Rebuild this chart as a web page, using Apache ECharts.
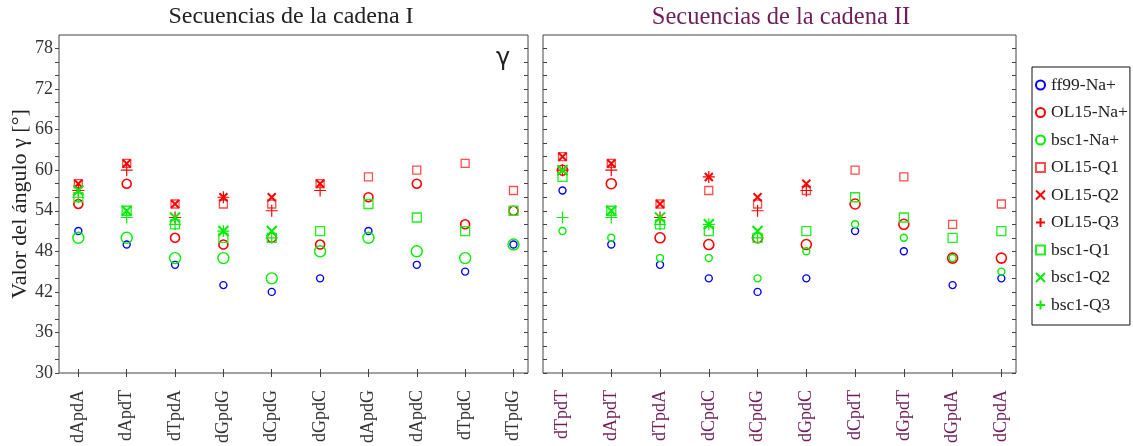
<!DOCTYPE html>
<html>
<head>
<meta charset="utf-8">
<script src="https://cdn.jsdelivr.net/npm/echarts@6/dist/echarts.min.js"></script>
<style>
  html, body { margin: 0; padding: 0; background: #fff; }
  #chart { width: 1133px; height: 446px; }
</style>
</head>
<body>
<div id="chart"></div>
<script>
// Sequence labels for each strand
const catsI  = ['dApdA', 'dApdT', 'dTpdA', 'dGpdG', 'dCpdG', 'dGpdC', 'dApdG', 'dApdC', 'dTpdC', 'dTpdG'];
const catsII = ['dTpdT', 'dApdT', 'dTpdA', 'dCpdC', 'dCpdG', 'dGpdC', 'dCpdT', 'dGpdT', 'dGpdA', 'dCpdA'];

// Y axis labels and tick marks (degrees)
const yLabelValues = [30, 36, 42, 48, 54, 60, 66, 72, 78];
const yTickValues  = [30, 32, 34, 36, 38, 40, 42, 44, 46, 48, 50, 52, 54, 56, 58, 60, 62, 64, 66, 68, 70, 72, 74, 76, 78];

// Gamma angle values, strand I
const ff99Na_I   = [51, 49, 46, 43, 42, 44, 51, 46, 45, 49];
const ol15Na_I   = [55, 58, 50, 49, 50, 49, 56, 58, 52, 54];
const bsc1Na_I   = [50, 50, 47, 47, 44, 48, 50, 48, 47, 49];
const ol15Q1_I   = [58, 61, 55, 55, 55, 58, 59, 60, 61, 57];
const ol15Q2_I   = [58, 61, 55, 56, 56, 58, null, null, null, null];
const ol15Q3_I   = [57, 60, 53, 56, 54, 57, null, null, null, null];
const bsc1Q1_I   = [56, 54, 52, 50, 50, 51, 55, 53, 51, 54];
const bsc1Q2_I   = [57, 54, 53, 51, 51, null, null, null, null, null];
const bsc1Q3_I   = [56, 53, 52, 51, 50, null, null, null, null, null];

// Gamma angle values, strand II
const ff99Na_II  = [57, 49, 46, 44, 42, 44, 51, 48, 43, 44];
const ol15Na_II  = [60, 58, 50, 49, 50, 49, 55, 52, 47, 47];
const bsc1Na_II  = [51, 50, 47, 47, 44, 48, 52, 50, 47, 45];
const ol15Q1_II  = [62, 61, 55, 57, 55, 57, 60, 59, 52, 55];
const ol15Q2_II  = [62, 61, 55, 59, 56, 58, null, null, null, null];
const ol15Q3_II  = [60, 60, 53, 59, 54, 57, null, null, null, null];
const bsc1Q1_II  = [59, 54, 52, 51, 50, 51, 56, 53, 50, 51];
const bsc1Q2_II  = [60, 54, 53, 52, 51, null, null, null, null, null];
const bsc1Q3_II  = [53, 53, 52, 52, 50, null, null, null, null, null];

const SERIF = '"Liberation Serif", "DejaVu Serif", serif';
const AXIS = '#444';
const PURPLE = '#6e1f5a';

const CROSS = 'path://M0,0L10,10M10,0L0,10';
const PLUS  = 'path://M5,0L5,10M0,5L10,5';

// name, colour, symbol, size on strand I, size on strand II, stroke width, data I, data II
const defs = [
  ['ff99-Na+',  '#0000ff', 'circle', 7,  7,  1.4, ff99Na_I, ff99Na_II],
  ['OL15-Na+',  '#ff0000', 'circle', 9,  10, 1.6, ol15Na_I, ol15Na_II],
  ['bsc1-Na+',  '#00ee00', 'circle', 11, 7,  1.4, bsc1Na_I, bsc1Na_II],
  ['OL15-Q1',   '#ff4d4d', 'rect',   8,  8,  1.3, ol15Q1_I, ol15Q1_II],
  ['OL15-Q2',   '#ff0000', CROSS,    8,  8,  2.0, ol15Q2_I, ol15Q2_II],
  ['OL15-Q3',   '#ff0000', PLUS,     12, 12, 1.2, ol15Q3_I, ol15Q3_II],
  ['bsc1-Q1',   '#22ee22', 'rect',   9,  9,  1.3, bsc1Q1_I, bsc1Q1_II],
  ['bsc1-Q2',   '#00ee00', CROSS,    10, 10, 2.0, bsc1Q2_I, bsc1Q2_II],
  ['bsc1-Q3',   '#00ee00', PLUS,     12, 12, 1.2, bsc1Q3_I, bsc1Q3_II]
];

function toPoints(arr) {
  return arr.map((v, i) => (v == null ? null : [i, v])).filter(p => p);
}

const series = [];
defs.forEach(([name, color, symbol, sI, sII, bw, dI, dII]) => {
  [[dI, sI, 0], [dII, sII, 1]].forEach(([d, size, g]) => {
    series.push({
      name,
      type: 'scatter',
      xAxisIndex: g * 2,
      yAxisIndex: g * 2,
      symbol,
      symbolSize: size,
      itemStyle: { color: 'rgba(0,0,0,0)', borderColor: color, borderWidth: bw, opacity: 1 },
      emphasis: { disabled: true },
      data: toPoints(d),
      z: 3
    });
  });
});

const idx = [0, 1, 2, 3, 4, 5, 6, 7, 8, 9];

function xAxes(g, cats, labelColor) {
  return [
    {
      type: 'value', gridIndex: g, min: -0.4, max: 9.3, position: 'bottom',
      splitLine: { show: false },
      axisLine: { show: false, onZero: false },
      axisTick: { show: true, customValues: idx, length: 4, inside: false, lineStyle: { color: AXIS } },
      axisLabel: {
        show: true, customValues: idx, rotate: 90, margin: 17,
        formatter: v => cats[Math.round(v)],
        color: labelColor, fontFamily: SERIF, fontSize: 18
      }
    },
    {
      type: 'value', gridIndex: g, min: -0.4, max: 9.3, position: 'bottom',
      splitLine: { show: false },
      axisLine: { show: false, onZero: false },
      axisTick: { show: true, customValues: idx, length: 4, inside: true, lineStyle: { color: AXIS } },
      axisLabel: { show: false }
    }
  ];
}

function yAxes(g, withLabels) {
  const base = {
    type: 'value', gridIndex: g, min: 30, max: 80,
    splitLine: { show: false },
    axisLine: { show: false, onZero: false }
  };
  return [
    Object.assign({}, base, {
      position: 'left',
      axisTick: { show: true, customValues: yTickValues, length: 4, inside: !withLabels, lineStyle: { color: AXIS } },
      axisLabel: {
        show: withLabels, customValues: yLabelValues, margin: 6,
        color: '#333', fontFamily: SERIF, fontSize: 18
      },
      name: withLabels ? 'Valor del ángulo γ [°]' : '',
      nameLocation: 'middle',
      nameGap: 26,
      nameTextStyle: { fontFamily: SERIF, fontSize: 22, color: '#222' }
    }),
    Object.assign({}, base, {
      position: 'right',
      axisTick: { show: true, customValues: yTickValues, length: 4, inside: true, lineStyle: { color: AXIS } },
      axisLabel: { show: false }
    })
  ];
}

const option = {
  animation: false,
  backgroundColor: '#fff',
  title: [
    { text: 'Secuencias de la cadena I', left: 286, top: 0, textAlign: 'center',
      textStyle: { fontFamily: SERIF, fontSize: 24, fontWeight: 'normal', color: '#222' } },
    { text: 'Secuencias de la cadena II', left: 776, top: 0, textAlign: 'center',
      textStyle: { fontFamily: SERIF, fontSize: 24.5, fontWeight: 'normal', color: PURPLE } }
  ],
  grid: [
    { left: 59, right: 605, top: 35, bottom: 72, show: true, borderColor: AXIS, borderWidth: 1, backgroundColor: 'transparent' },
    { left: 543, right: 117, top: 35, bottom: 72, show: true, borderColor: AXIS, borderWidth: 1, backgroundColor: 'transparent' }
  ],
  xAxis: [...xAxes(0, catsI, '#333'), ...xAxes(1, catsII, PURPLE)],
  yAxis: [...yAxes(0, true), ...yAxes(1, false)],
  legend: {
    orient: 'vertical',
    left: 1032, top: 67,
    padding: [9, 2, 11, 3],
    itemGap: 9.5,
    itemWidth: 9, itemHeight: 9,
    borderColor: '#111', borderWidth: 1,
    selectedMode: false,
    textStyle: { fontFamily: SERIF, fontSize: 17.5, color: '#222', padding: [0, 0, 0, 1] },
    data: defs.map(d => d[0])
  },
  graphic: [
    { type: 'text', left: 496, top: 47,
      style: { text: 'γ', font: '24px "DejaVu Sans", sans-serif', fill: '#222' } }
  ],
  series
};

const chart = echarts.init(document.getElementById('chart'), null, { renderer: 'canvas' });
chart.setOption(option);
</script>
</body>
</html>
